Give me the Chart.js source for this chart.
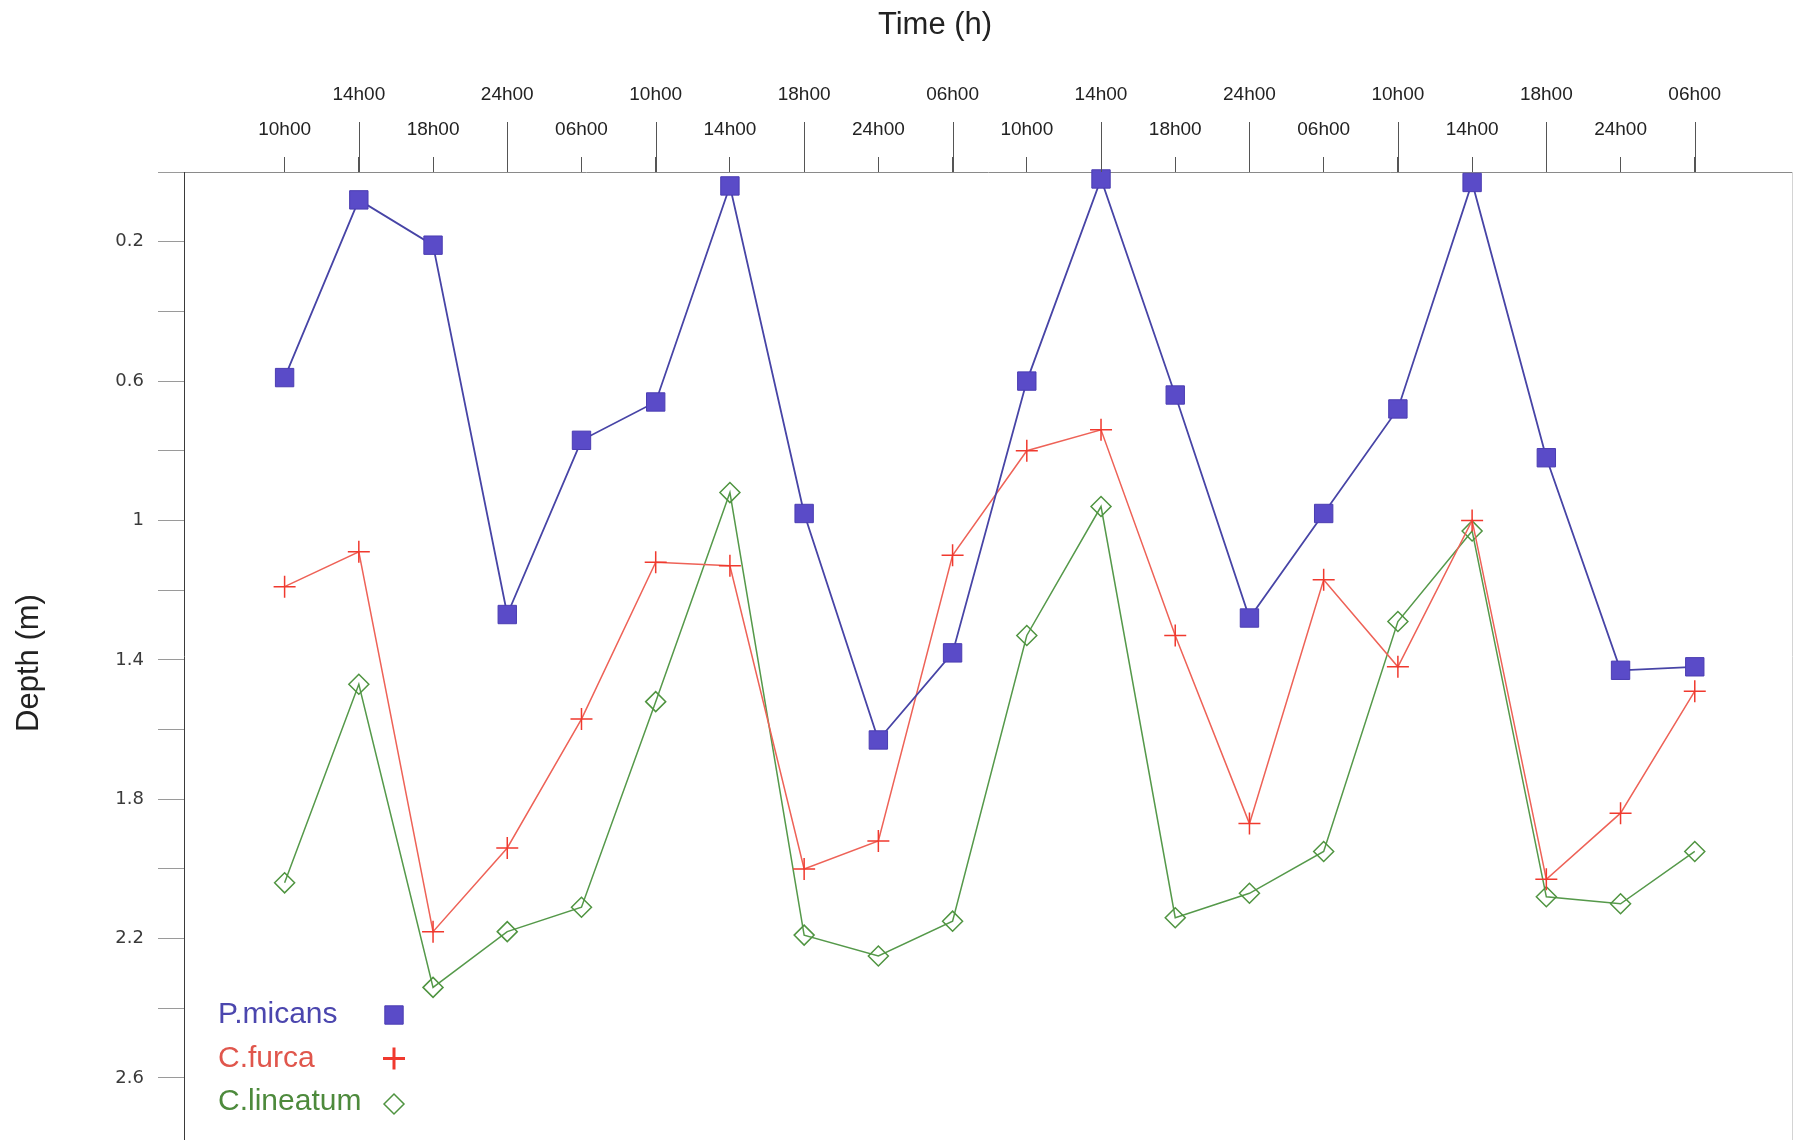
<!DOCTYPE html>
<html>
<head>
<meta charset="utf-8">
<title>Depth of P.micans, C.furca and C.lineatum over time</title>
<script src="https://cdn.jsdelivr.net/npm/chart.js"></script>
<style>
  html, body { margin: 0; padding: 0; background: #ffffff; }
  canvas { display: block; }
</style>
</head>
<body>
<canvas id="depthChart" width="1793" height="1140"></canvas>
<script>
// Sampling times (one column per sample, evenly spaced)
const timeLabels = ['10h00', '14h00', '18h00', '24h00', '06h00', '10h00', '14h00', '18h00', '24h00', '06h00',
                    '10h00', '14h00', '18h00', '24h00', '06h00', '10h00', '14h00', '18h00', '24h00', '06h00'];

// Mean depth (m) of each species at each sampling time
const pMicans   = [0.59, 0.08, 0.21, 1.27, 0.77, 0.66, 0.04, 0.98, 1.63, 1.38,
                   0.60, 0.02, 0.64, 1.28, 0.98, 0.68, 0.03, 0.82, 1.43, 1.42];
const cFurca    = [1.19, 1.09, 2.18, 1.94, 1.57, 1.12, 1.13, 2.00, 1.92, 1.10,
                   0.80, 0.74, 1.33, 1.87, 1.17, 1.42, 1.00, 2.03, 1.84, 1.49];
const cLineatum = [2.04, 1.47, 2.34, 2.18, 2.11, 1.52, 0.92, 2.19, 2.25, 2.15,
                   1.33, 0.96, 2.14, 2.07, 1.95, 1.29, 1.03, 2.08, 2.10, 1.95];

const seriesNames = ['P.micans', 'C.furca', 'C.lineatum'];

// Depth axis: a tick every 0.2 m, labelled every 0.4 m
const depthTicks  = [0, 0.2, 0.4, 0.6, 0.8, 1.0, 1.2, 1.4, 1.6, 1.8, 2.0, 2.2, 2.4, 2.6];
const depthLabels = ['', '0.2', '', '0.6', '', '1', '', '1.4', '', '1.8', '', '2.2', '', '2.6'];

const FONT = "'Liberation Sans', Arial, Helvetica, sans-serif";
const TICK_FONT = "'DejaVu Sans', Verdana, sans-serif";

const toPoints = arr => arr.map((v, i) => ({ x: i, y: v }));

// Fixed scale box sizes, with no extra room reserved for overhanging labels
const fixSize = (w, h) => s => {
  if (w !== null) s.width = w;
  if (h !== null) s.height = h;
  s.paddingTop = 0;
  s.paddingBottom = 0;
  s.paddingLeft = 0;
  s.paddingRight = 0;
};

// Long ticks for the upper row of time labels, plus both axis titles
const axisDecor = {
  id: 'axisDecor',
  afterDraw(chart) {
    const ctx = chart.ctx;
    const xs = chart.scales.x;
    const ca = chart.chartArea;
    ctx.save();
    ctx.strokeStyle = '#555555';
    ctx.lineWidth = 1;
    timeLabels.forEach((_, i) => {
      if (i % 2 === 1) {
        const px = Math.round(xs.getPixelForValue(i)) + 0.5;
        ctx.beginPath();
        ctx.moveTo(px, ca.top - 50);
        ctx.lineTo(px, ca.top);
        ctx.stroke();
      }
    });
    ctx.fillStyle = '#222222';
    ctx.font = '31px ' + FONT;
    ctx.textAlign = 'center';
    ctx.textBaseline = 'middle';
    ctx.fillText('Time (h)', (ca.left + ca.right) / 2 - 53, 25);

    ctx.translate(29, (ca.top + ca.bottom) / 2 + 7);
    ctx.rotate(-Math.PI / 2);
    ctx.fillText('Depth (m)', 0, 0);
    ctx.restore();
  }
};

// Species key in the lower-left corner: name, then the series marker
const speciesKey = {
  id: 'speciesKey',
  afterDraw(chart) {
    const ctx = chart.ctx;
    const ca = chart.chartArea;
    const textColors = ['#4b46ae', '#e0564c', '#4d8a3c'];
    const markerLine = [1, 3, 1.5];
    const markerSize = [13, 11, 10];
    ctx.save();
    chart.data.datasets.forEach((ds, k) => {
      const y = ca.bottom - 125 + k * 43.5;
      ctx.fillStyle = textColors[k];
      ctx.font = '30px ' + FONT;
      ctx.textAlign = 'left';
      ctx.textBaseline = 'middle';
      ctx.fillText(ds.label, ca.left + 34, y);
      const opts = {
        pointStyle: ds.pointStyle,
        radius: markerSize[k],
        borderWidth: markerLine[k],
        rotation: 0
      };
      ctx.fillStyle = ds.pointBackgroundColor;
      ctx.strokeStyle = ds.pointBorderColor;
      ctx.lineWidth = markerLine[k];
      Chart.helpers.drawPoint(ctx, opts, ca.left + 210, y + (k === 2 ? 2 : 0));
    });
    ctx.restore();
  }
};

new Chart(document.getElementById('depthChart'), {
  type: 'line',
  data: {
    datasets: [
      {
        label: seriesNames[0],
        data: toPoints(pMicans),
        borderColor: '#4744a6',
        borderWidth: 1.8,
        pointStyle: 'rect',
        pointRadius: 13,
        pointHoverRadius: 13,
        pointBackgroundColor: '#5a4bc8',
        pointBorderColor: '#4b3db2',
        pointBorderWidth: 1,
        tension: 0,
        clip: false
      },
      {
        label: seriesNames[1],
        data: toPoints(cFurca),
        borderColor: '#ee6257',
        borderWidth: 1.5,
        pointStyle: 'cross',
        pointRadius: 11,
        pointHoverRadius: 11,
        pointBackgroundColor: '#f0392e',
        pointBorderColor: '#f0392e',
        pointBorderWidth: 1.5,
        tension: 0,
        clip: false
      },
      {
        label: seriesNames[2],
        data: toPoints(cLineatum),
        borderColor: '#55994a',
        borderWidth: 1.5,
        pointStyle: 'rectRot',
        pointRadius: 10,
        pointHoverRadius: 10,
        pointBackgroundColor: 'rgba(255,255,255,0)',
        pointBorderColor: '#4f9440',
        pointBorderWidth: 1.5,
        tension: 0,
        clip: false
      }
    ]
  },
  options: {
    responsive: false,
    animation: false,
    events: [],
    layout: { padding: 0, autoPadding: false },
    plugins: {
      legend: { display: false },
      tooltip: { enabled: false },
      title: { display: false }
    },
    scales: {
      x: {
        type: 'linear',
        position: 'top',
        min: -1.3555,
        max: 20.31,
        afterBuildTicks: s => { s.ticks = timeLabels.map((_, i) => ({ value: i })); },
        afterFit: fixSize(null, 172),
        border: { display: true, color: '#8a8a8a', width: 1 },
        grid: { drawOnChartArea: false, drawTicks: true, tickLength: 15, tickColor: '#555555', tickWidth: 1 },
        ticks: {
          autoSkip: false,
          maxRotation: 0,
          minRotation: 0,
          padding: 9.5,
          color: '#222222',
          font: { family: FONT, size: 19, lineHeight: '35px' },
          callback: v => {
            const i = Math.round(v);
            return i % 2 ? [timeLabels[i], ''] : timeLabels[i];
          }
        }
      },
      y: {
        type: 'linear',
        position: 'left',
        reverse: true,
        min: 0,
        max: 2.778,
        afterBuildTicks: s => { s.ticks = depthTicks.map(v => ({ value: v })); },
        afterFit: fixSize(184, null),
        border: { display: true, color: '#3a3a3a', width: 1 },
        grid: { drawOnChartArea: false, drawTicks: true, tickLength: 26, tickColor: '#9a9a9a', tickWidth: 1 },
        ticks: {
          autoSkip: false,
          padding: 14,
          color: '#3a3a3a',
          font: { family: TICK_FONT, size: 18 },
          callback: (v, i) => depthLabels[i]
        }
      },
      frame: {
        type: 'linear',
        position: 'right',
        min: 0,
        max: 1,
        afterFit: fixSize(1, null),
        ticks: { display: false },
        grid: { drawOnChartArea: false, drawTicks: false },
        border: { display: true, color: '#d4d4d4', width: 1 }
      }
    }
  },
  plugins: [axisDecor, speciesKey]
});
</script>
</body>
</html>
